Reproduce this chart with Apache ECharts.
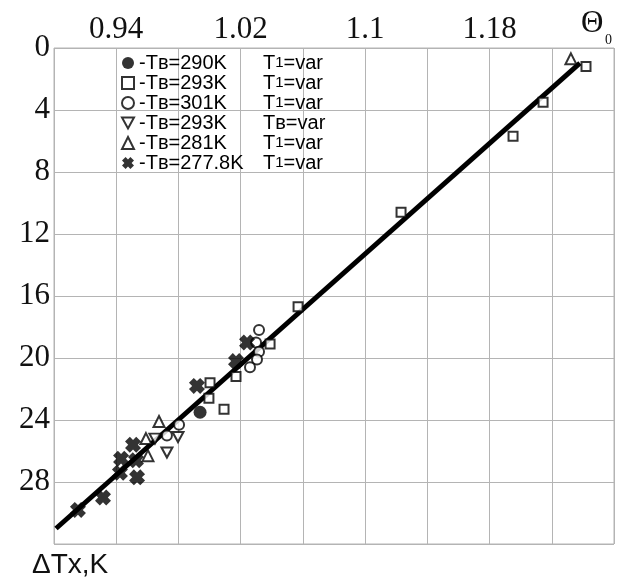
<!DOCTYPE html>
<html>
<head>
<meta charset="utf-8">
<style>
  html, body { margin: 0; padding: 0; background: #fff; }
  #chart { width: 626px; height: 583px; }
</style>
<script src="https://cdn.jsdelivr.net/npm/echarts@6/dist/echarts.min.js"></script>
</head>
<body>
<div id="chart"></div>
<script>
// ---- data ----
const xTickLabels = ['0.94', '1.02', '1.1', '1.18'];

const legendLeft = ['-Tв=290K', '-Tв=293K', '-Tв=301K', '-Tв=293K', '-Tв=281K', '-Tв=277.8K'];
const legendRight = ['T1=var', 'T1=var', 'T1=var', 'Tв=var', 'T1=var', 'T1=var'];

// Tв=290K, T1=var (filled circle)
const s1X = [0.9939];
const s1Y = [23.5];
// Tв=293K, T1=var (square)
const s2X = [1.2420, 1.2144, 1.1951, 1.1231, 1.0569, 1.0389, 1.0170, 1.0003, 0.9996, 1.0093];
const s2Y = [1.2, 3.5, 5.7, 10.6, 16.7, 19.1, 21.2, 21.6, 22.6, 23.3];
// Tв=301K, T1=var (circle)
const s3X = [1.0318, 1.0299, 1.0318, 1.0305, 1.0260, 0.9804, 0.9726];
const s3Y = [18.2, 19.0, 19.6, 20.1, 20.6, 24.3, 25.0];
// Tв=293K, Tв=var (down triangle)
const s4X = [0.9649, 0.9797, 0.9726];
const s4Y = [25.2, 25.1, 26.1];
// Tв=281K, T1=var (up triangle)
const s5X = [1.2323, 0.9675, 0.9591, 0.9604];
const s5Y = [0.7, 24.1, 25.2, 26.3];
// Tв=277.8K, T1=var (cross)
const s6X = [1.0241, 1.0170, 0.9919, 0.9508, 0.9431, 0.9527, 0.9424, 0.9534, 0.9315, 0.9154];
const s6Y = [19.0, 20.2, 21.8, 25.6, 26.5, 26.6, 27.4, 27.7, 29.0, 29.8];

// fitted line
const fitX = [0.9013, 1.2381];
const fitY = [31.0, 0.97];

const pair = (xs, ys) => xs.map((x, i) => [x, ys[i]]);

const SERIF = "'Liberation Serif', 'Times New Roman', 'DejaVu Serif', serif";
const SANS = "'Liberation Sans', Arial, sans-serif";

const crossPath = 'path://M0,3 L3,0 L5,2 L7,0 L10,3 L8,5 L10,7 L7,10 L5,8 L3,10 L0,7 L2,5 Z';
const downTri = 'path://M0,0 L10,0 L5,9 Z';

const names = legendLeft.map((l, i) => l + ' ' + legendRight[i]);
const hollow = { color: '#fff', borderColor: '#000', borderWidth: 2 };

// "T1=var" -> T with a small 1
function rightPart(s) {
  if (s.indexOf('T1') === 0) return '{b|T}{s|1}{b|' + s.slice(2) + '}';
  return '{b|' + s + '}';
}

const chart = echarts.init(document.getElementById('chart'));

chart.setOption({
  animation: false,
  backgroundColor: '#fff',
  grid: {
    left: 54, right: 12, top: 48, bottom: 39,
    show: true, borderColor: '#b4b4b4', borderWidth: 1
  },
  legend: {
    orient: 'vertical',
    left: 121,
    top: 53,
    itemGap: 0,
    itemWidth: 12,
    itemHeight: 12,
    padding: 0,
    data: names,
    formatter: function(name) {
      const i = names.indexOf(name);
      return '{a|' + legendLeft[i] + '}' + rightPart(legendRight[i]);
    },
    textStyle: {
      fontFamily: SANS,
      fontSize: 20,
      color: '#000',
      rich: {
        a: { fontFamily: SANS, fontSize: 20, lineHeight: 20, width: 124, color: '#000' },
        b: { fontFamily: SANS, fontSize: 20, lineHeight: 20, color: '#000' },
        s: { fontFamily: SANS, fontSize: 15, lineHeight: 20, color: '#000' }
      }
    }
  },
  xAxis: {
    type: 'value',
    position: 'top',
    min: 0.9,
    max: 1.26,
    interval: 0.04,
    axisLine: { show: false },
    axisTick: { show: false },
    splitLine: { lineStyle: { color: '#b4b4b4', width: 1 } },
    axisLabel: {
      margin: 3,
      fontFamily: SERIF,
      fontSize: 31,
      color: '#111',
      formatter: function(v) {
        const s = String(Math.round(v * 100) / 100);
        return xTickLabels.indexOf(s) >= 0 ? s : '';
      }
    }
  },
  yAxis: {
    type: 'value',
    inverse: true,
    min: 0,
    max: 32,
    interval: 4,
    axisLine: { show: false },
    axisTick: { show: false },
    splitLine: { lineStyle: { color: '#b4b4b4', width: 1 } },
    axisLabel: {
      margin: 4,
      fontFamily: SERIF,
      fontSize: 31,
      color: '#111',
      formatter: v => (v >= 32 ? '' : String(v))
    }
  },
  series: [
    {
      type: 'line', data: pair(fitX, fitY), showSymbol: false, symbol: 'none',
      lineStyle: { color: '#000', width: 5 }, z: 1, silent: true
    },
    {
      name: names[0], type: 'scatter', data: pair(s1X, s1Y),
      symbol: 'circle', symbolSize: 13, itemStyle: { color: '#000' }, z: 3
    },
    {
      name: names[1], type: 'scatter', data: pair(s2X, s2Y),
      symbol: 'rect', symbolSize: 9, itemStyle: hollow, z: 3
    },
    {
      name: names[2], type: 'scatter', data: pair(s3X, s3Y),
      symbol: 'circle', symbolSize: 10, itemStyle: hollow, z: 3
    },
    {
      name: names[3], type: 'scatter', data: pair(s4X, s4Y),
      symbol: downTri, symbolSize: [11, 10], itemStyle: hollow, z: 3
    },
    {
      name: names[4], type: 'scatter', data: pair(s5X, s5Y),
      symbol: 'triangle', symbolSize: [11, 11], itemStyle: hollow, z: 3
    },
    {
      name: names[5], type: 'scatter', data: pair(s6X, s6Y),
      symbol: crossPath, symbolSize: 16, itemStyle: { color: '#000' }, z: 3
    }
  ],
  graphic: [
    {
      type: 'text', left: 581, top: 8,
      style: { text: 'Θ', fontFamily: SERIF, fontSize: 31, fill: '#111' }
    },
    {
      type: 'text', left: 605, top: 33,
      style: { text: '0', fontFamily: SERIF, fontSize: 14, fill: '#111' }
    },
    {
      type: 'text', left: 32, top: 551,
      style: { text: 'ΔTx,K', fontFamily: SANS, fontSize: 28, fill: '#111' }
    }
  ]
});
</script>
</body>
</html>
